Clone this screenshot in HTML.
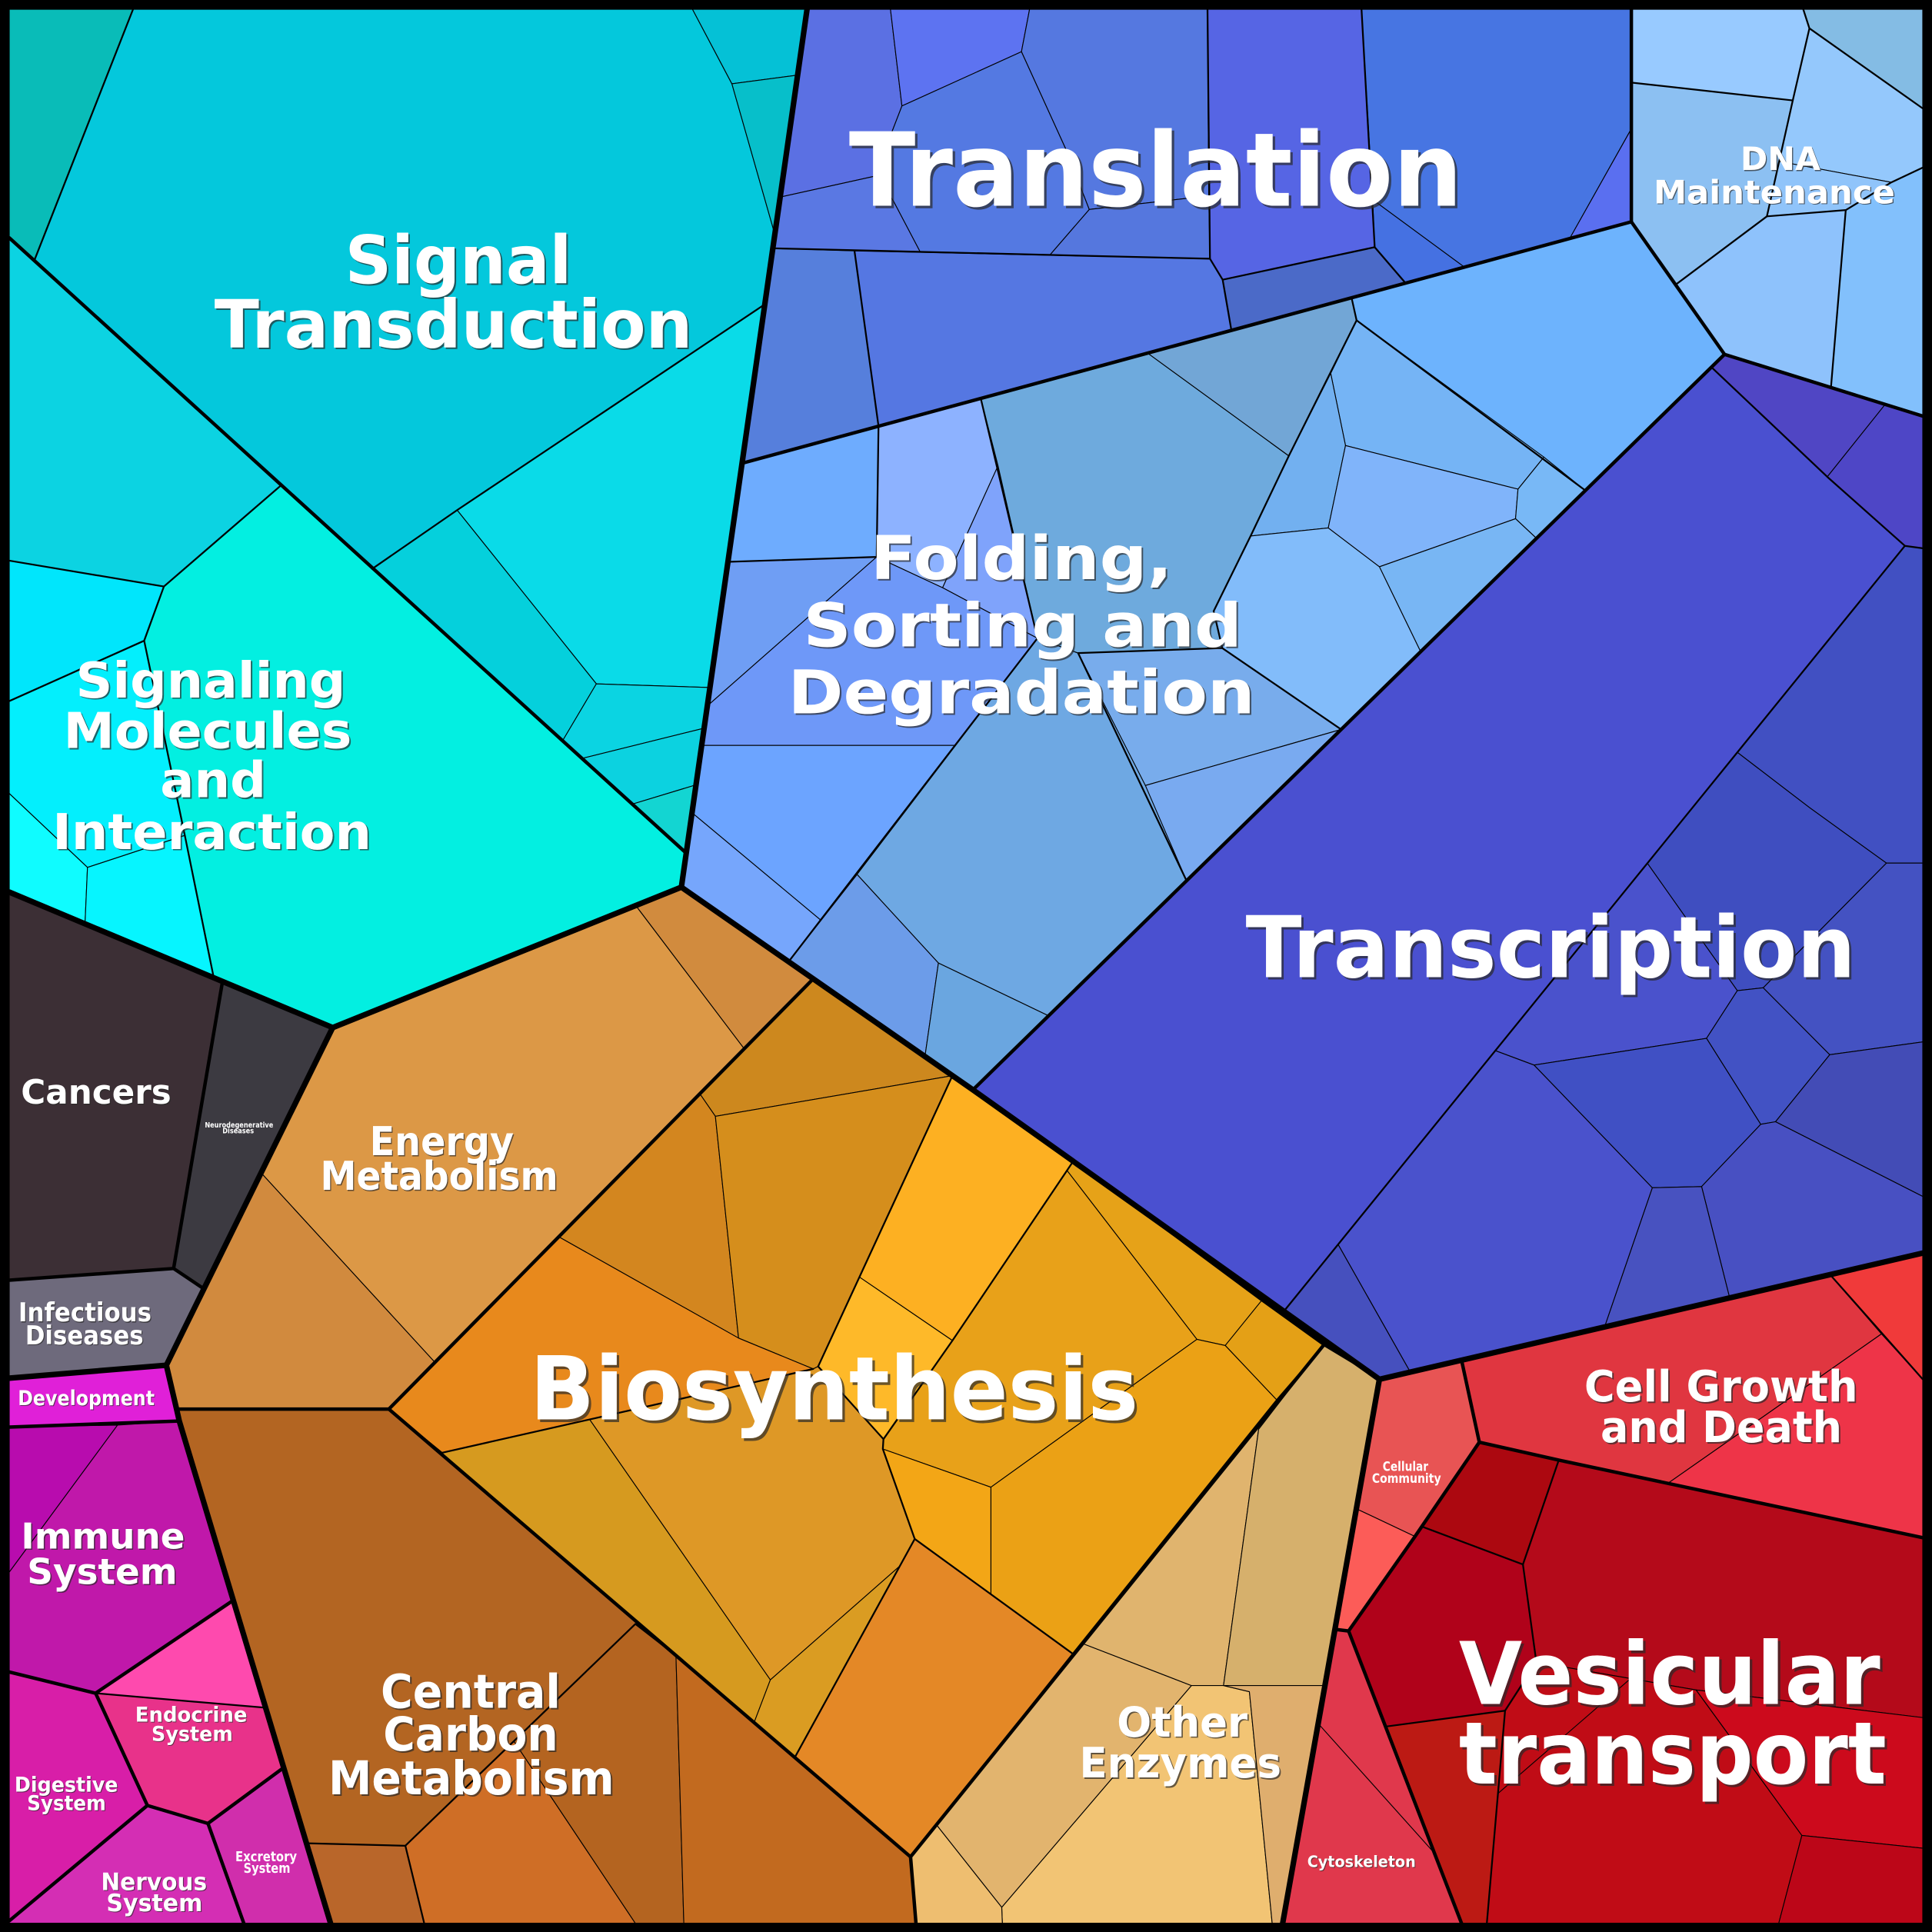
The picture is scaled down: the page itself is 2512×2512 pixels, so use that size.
<!DOCTYPE html>
<html><head><meta charset="utf-8"><style>
html,body{margin:0;padding:0;background:#000;}
svg{display:block;}
.t{font-family:"DejaVu Sans","Liberation Sans",sans-serif;font-weight:bold;text-anchor:middle;}
.s{fill:#2a2a2a;fill-opacity:.7;}
.w{fill:#fff;}
</style></head><body>
<svg xmlns="http://www.w3.org/2000/svg" width="2512" height="2512" viewBox="0 0 1568 1568">
<rect width="1568" height="1568" fill="#000"/>
<g stroke="#000" stroke-width="0.7" stroke-linejoin="round">
<!-- Signal Transduction -->
<polygon fill="#09bcb8" points="7.5,7.5 108,7.5 28,211 7.5,193"/>
<polygon fill="#04c8dc" points="108,7.5 562,7.5 594,68 628.8,190 620.7,247 371,414 302,461.7 28,211"/>
<polygon fill="#05c1d6" points="562,7.5 655,7.5 647.3,61 594,68"/>
<polygon fill="#07bfca" points="594,68 647.3,61 628.8,190"/>
<polygon fill="#0adbe8" points="620.7,247 576.2,558 484,555 371,414"/>
<polygon fill="#05d0dc" points="302,461.7 371,414 484,555 456,602.2"/>
<polygon fill="#0bd4e2" points="484,555 576.2,558 571.4,591 471,615.9 456,602.2"/>
<polygon fill="#0cd2e0" points="471,615.9 571.4,591 564.8,637 512,653"/>
<polygon fill="#13d5d2" points="512,653 564.8,637 556.5,692"/>
<!-- Signaling Molecules -->
<polygon fill="#0cd3e2" points="7.5,193 228,394 133,476 7.5,455"/>
<polygon fill="#00e6fc" points="7.5,455 133,476 117,520 7.5,569"/>
<polygon fill="#03effd" points="7.5,569 117,520 150,678 71,704 7.5,644"/>
<polygon fill="#0ffcff" points="7.5,644 71,704 69,749.5 7.5,724"/>
<polygon fill="#06f5ff" points="71,704 150,678 173.5,793.6 69,749.5"/>
<polygon fill="#03efe1" points="228,394 556.5,692 553,720 270,834 173.5,793.6 150,678 117,520 133,476"/>
<!-- Translation -->
<polygon fill="#5b70e3" points="655,7.5 722.7,7.5 732,86 710,143 633,160"/>
<polygon fill="#5d73f1" points="722.7,7.5 835.6,7.5 829,42 732,86"/>
<polygon fill="#5578e0" points="835.6,7.5 980,7.5 981,159 884,170 865,121 829,42"/>
<polygon fill="#5577de" points="884,170 981,159 982,210 852,207"/>
<polygon fill="#5479e2" points="732,86 829,42 865,121 884,170 852,207 747,204.8 725,163 710,143"/>
<polygon fill="#5a78e3" points="633,160 710,143 725,163 747,204.8 627.2,201.5"/>
<polygon fill="#5665e4" points="980,7.5 1105,7.5 1115.7,200.6 992.3,227 982,210"/>
<polygon fill="#4775e2" points="1105,7.5 1324,7.5 1324,104.5 1274,193.5 1188.5,216.8 1114,162"/>
<polygon fill="#4571e2" points="1114,162 1188.5,216.8 1140.7,229.7 1115.7,200.6"/>
<polygon fill="#5a6ff0" points="1324,104.5 1324,180 1274,193.5"/>
<polygon fill="#4b6ac8" points="992.3,227 1115.7,200.6 1140.7,229.7 999.4,268.1"/>
<polygon fill="#567fdc" points="627.2,201.5 693.5,203.6 713,345.9 602.2,376"/>
<polygon fill="#5577e2" points="693.5,203.6 982,210 992.3,227 999.4,268.1 713,345.9"/>
<!-- Folding -->
<polygon fill="#6eacfe" points="602.2,376 713,345.9 711.5,452 590.7,456"/>
<polygon fill="#8db2ff" points="713,345.9 796,323.4 810,378 765,477 711.5,452"/>
<polygon fill="#7fa3fb" points="765,477 810,378 842,518"/>
<polygon fill="#6f9ef4" points="590.7,456 711.5,452 574,573"/>
<polygon fill="#6e98f8" points="574,573 711.5,452 765,477 842,518 775,605 569.4,605"/>
<polygon fill="#6ca4ff" points="569.4,605 775,605 665.8,746.5 561.6,659.6"/>
<polygon fill="#76a6fc" points="561.6,659.6 665.8,746.5 640,780.5 553,720"/>
<polygon fill="#6ea8e3" points="842,518 875,530 930,637 963,714.8 851,824.4 761.6,781.6 695.6,709.7"/>
<polygon fill="#6c9ce9" points="640,780.5 695.6,709.7 761.6,781.6 750.7,857.4"/>
<polygon fill="#6aa6e0" points="761.6,781.6 851,824.4 789.6,884.5 750.7,857.4"/>
<polygon fill="#6eaadd" points="796,323.4 931.7,286.8 1046,370 1015,435 985,496 992,526 875,530 842,518 810,378"/>
<polygon fill="#72a6d6" points="931.7,286.8 1097,242 1101,260 1046,370"/>
<polygon fill="#6db3fd" points="1097,242 1324,180 1399.6,287.6 1286.7,398.1 1101,260"/>
<polygon fill="#75b4f5" points="1101,260 1253,371 1232,397 1092,361.6 1080,303"/>
<polygon fill="#72b0f0" points="1080,303 1092,361.6 1078,428.5 1015,435 1046,370"/>
<polygon fill="#80b4fa" points="1092,361.6 1232,397 1230,421 1119.5,460 1078,428.5"/>
<polygon fill="#78b8f6" points="1253,371 1286.7,398.1 1247,436.9 1230,421 1232,397"/>
<polygon fill="#78b6f4" points="1119.5,460 1230,421 1247,436.9 1153,528.9"/>
<polygon fill="#82bcfa" points="1015,435 1078,428.5 1119.5,460 1153,528.9 1088.5,592 992,526 985,496"/>
<polygon fill="#78acec" points="875,530 992,526 1088.5,592 929.6,637.5"/>
<polygon fill="#79aaf0" points="929.6,637.5 1088.5,592 963,714.8"/>
<!-- DNA Maintenance -->
<polygon fill="#98caff" points="1324,7.5 1463.5,7.5 1468.5,23 1455,81.5 1324,67"/>
<polygon fill="#84bce4" points="1463.5,7.5 1560.5,7.5 1560.5,88 1468.5,23"/>
<polygon fill="#8cc0f2" points="1324,67 1455,81.5 1434,175.6 1360,231 1324,180"/>
<polygon fill="#94c8fc" points="1468.5,23 1560.5,88 1560.5,136 1535,148 1444,131 1455,81.5"/>
<polygon fill="#90c4fa" points="1444,131 1535,148 1498,170.5 1434,175.6"/>
<polygon fill="#82c0fc" points="1535,148 1560.5,136 1560.5,337.7 1486,314.5 1498,170.5"/>
<polygon fill="#8ec2fc" points="1360,231 1434,175.6 1498,170.5 1486,314.5 1399.6,287.6"/>
<!-- Transcription -->
<polygon fill="#5046c4" points="1399.6,287.6 1530,328.2 1483,387 1389,298"/>
<polygon fill="#4e46c6" points="1530,328.2 1560.5,337.7 1560.5,445 1546,443 1483,387"/>
<polygon fill="#4a50d0" points="1389,298 1483,387 1546,443 1042,1064.2 789.6,884.5"/>
<polygon fill="#4150c2" points="1546,443 1560.5,445 1560.5,700.5 1531,700.5 1468.5,655.4 1410,610.6"/>
<polygon fill="#3f4ec0" points="1410,610.6 1468.5,655.4 1531,700.5 1431,801.7 1410,804 1337,700.6"/>
<polygon fill="#4452c2" points="1531,700.5 1560.5,700.5 1560.5,845.6 1485,856 1431,801.7"/>
<polygon fill="#4a52cc" points="1337,700.6 1410,804 1385,842.7 1245,864.4 1213.6,852.7"/>
<polygon fill="#4252c4" points="1410,804 1431,801.7 1485,856 1441,910.4 1429,912.5 1385,842.7"/>
<polygon fill="#4050c4" points="1245,864.4 1385,842.7 1429,912.5 1381,963 1341,964"/>
<polygon fill="#434cb6" points="1485,856 1560.5,845.6 1560.5,971 1441,910.4"/>
<polygon fill="#4850c2" points="1441,910.4 1560.5,971 1560.5,1017 1403.8,1053.4 1381,963 1429,912.5"/>
<polygon fill="#4852c0" points="1341,964 1381,963 1403.8,1053.4 1302.2,1077"/>
<polygon fill="#4a52cc" points="1213.6,852.7 1245,864.4 1341,964 1302.2,1077 1144.6,1113.6 1086,1010"/>
<polygon fill="#4650be" points="1086,1010 1144.6,1113.6 1119.5,1119.4 1042,1064.2"/>
<!-- Energy Metabolism -->
<polygon fill="#d18b3e" points="516,735 553,720 660,794.4 604,851.2"/>
<polygon fill="#dc9846" points="270,834 516,735 604,851.2 353,1105.7 212,952"/>
<polygon fill="#d18a3e" points="212,952 353,1105.7 315.6,1143.6 143.3,1143.6 135,1108"/>
<!-- Biosynthesis -->
<polygon fill="#cd881e" points="660,794.4 773,873 580.6,906 568,887.7"/>
<polygon fill="#d3861f" points="568,887.7 580.6,906 599.4,1086 453.5,1003.8"/>
<polygon fill="#d58e1c" points="580.6,906 773,873 664,1109 660,1111 599.4,1086"/>
<polygon fill="#e8891c" points="453.5,1003.8 599.4,1086 660,1111 359,1179 315.6,1143.6"/>
<polygon fill="#fdb022" points="773,873 789.6,884.5 871,942.5 773,1088 697.7,1036.6"/>
<polygon fill="#feb929" points="697.7,1036.6 773,1088 717,1168 664,1109"/>
<polygon fill="#e6a218" points="871,942.5 1023.7,1055.8 994.4,1092 971.4,1087 866,950"/>
<polygon fill="#e8a119" points="866,950 971.4,1087 804.2,1207 716.5,1176 717,1168 773,1088"/>
<polygon fill="#e4a016" points="1023.7,1055.8 1074,1092 1036,1136 994.4,1092"/>
<polygon fill="#eba115" points="971.4,1087 994.4,1092 1036,1136 870.4,1342 804.2,1294 804.2,1207"/>
<polygon fill="#f3a616" points="716.5,1176 804.2,1207 804.2,1294 742.4,1249"/>
<polygon fill="#de9826" points="478.5,1152 660,1111 664,1109 717,1168 716.5,1176 742.4,1249 730.3,1271 625.2,1363.4"/>
<polygon fill="#d69a1f" points="315.6,1143.6 359,1179 478.5,1152 625.2,1363.4 612,1398.1"/>
<polygon fill="#da9c22" points="625.2,1363.4 730.3,1271 645,1426.4 612,1398.1"/>
<polygon fill="#e48826" points="742.4,1249 870.4,1342 739,1507 645,1426.4 730.3,1271"/>
<!-- Central Carbon -->
<polygon fill="#b36522" points="143.3,1143.6 315.6,1143.6 548.6,1343.6 515.7,1318 329,1498 248.7,1496 145.5,1153.3"/>
<polygon fill="#b9662a" points="248.7,1496 329,1498 344.3,1561 268.3,1561"/>
<polygon fill="#cf6e26" points="329,1498 417,1413 515.7,1561 344.3,1561"/>
<polygon fill="#b46420" points="417,1413 515.7,1318 548.6,1343.6 555,1561 515.7,1561"/>
<polygon fill="#c26a1f" points="548.6,1343.6 739,1507 743.4,1561 555,1561"/>
<!-- Other Enzymes -->
<polygon fill="#e2b46e" points="879,1334 967,1368 813,1548 760,1481"/>
<polygon fill="#e0b46e" points="879,1334 1074,1092 1021.5,1160 993,1368 967,1368"/>
<polygon fill="#d6b06c" points="1074,1092 1119.5,1119.4 1075.3,1368 993,1368 1021.5,1160"/>
<polygon fill="#f2c474" points="967,1368 993,1368 1014,1373 1032.5,1561 813.5,1561 813,1548"/>
<polygon fill="#dfae6e" points="993,1368 1075.3,1368 1041,1561 1032.5,1561 1014,1373"/>
<polygon fill="#eebe70" points="760,1481 813,1548 813.5,1561 743.4,1561 739,1507"/>
<!-- Human diseases -->
<polygon fill="#3c2f35" points="7.5,724 180.6,796.5 140.9,1029.5 7.5,1039"/>
<polygon fill="#3c3a41" points="180.6,796.5 270,834 165.5,1046 140.9,1029.5"/>
<polygon fill="#6e6a7c" points="7.5,1039 140.9,1029.5 165.5,1046 135,1108 7.5,1118.5"/>
<!-- Organismal -->
<polygon fill="#e020d8" points="7.5,1118.5 135,1108 143.3,1143.6 145.5,1153.3 7.5,1158.2"/>
<polygon fill="#b80cae" points="7.5,1158.2 95.4,1156.6 7.5,1276"/>
<polygon fill="#c018aa" points="95.4,1156.6 145.5,1153.3 189.3,1298.8 77.6,1374.2 7.5,1357 7.5,1276"/>
<polygon fill="#fe4aae" points="189.3,1298.8 215.6,1386 77.6,1374.2"/>
<polygon fill="#e8328a" points="77.6,1374.2 215.6,1386 230.2,1434.6 168.8,1479.9 119.6,1465.3"/>
<polygon fill="#d81ea8" points="7.5,1357 77.6,1374.2 119.6,1465.3 7.5,1559"/>
<polygon fill="#d42eb4" points="119.6,1465.3 168.8,1479.9 197.9,1561 7.5,1561 7.5,1559"/>
<polygon fill="#d02eac" points="168.8,1479.9 230.2,1434.6 268.3,1561 197.9,1561"/>
<!-- Cellular processes -->
<polygon fill="#e85454" points="1119.5,1119.4 1186.2,1104 1200.6,1170.5 1148.4,1247 1100.8,1224.5"/>
<polygon fill="#fc5c58" points="1100.8,1224.5 1148.4,1247 1094.5,1323.7 1083.5,1322.4"/>
<polygon fill="#e03640" points="1186.2,1104 1485.3,1034.5 1527,1082.6 1353.6,1203.9 1265.1,1185 1200.6,1170.5"/>
<polygon fill="#f03a3a" points="1485.3,1034.5 1560.5,1017 1560.5,1119.4"/>
<polygon fill="#ee3448" points="1527,1082.6 1560.5,1119.4 1560.5,1248 1353.6,1203.9"/>
<polygon fill="#ac0810" points="1200.6,1170.5 1265.1,1185 1236,1269.7 1154.2,1239"/>
<polygon fill="#b40a1a" points="1265.1,1185 1560.5,1248 1560.5,1394 1376.6,1371.6 1246.9,1349 1236,1269.7"/>
<polygon fill="#b0021a" points="1154.2,1239 1236,1269.7 1246.9,1349 1221.5,1388.4 1124.5,1401.3 1094.5,1323.7"/>
<polygon fill="#bc1a14" points="1124.5,1401.3 1221.5,1388.4 1206.7,1561 1186.2,1561"/>
<polygon fill="#e0384c" points="1083.5,1322.4 1094.5,1323.7 1186.2,1561 1041,1561"/>
<polygon fill="#c00c16" points="1221.5,1388.4 1246.9,1349 1376.6,1371.6 1462.4,1489.6 1443.6,1561 1206.7,1561"/>
<polygon fill="#cc0a1c" points="1376.6,1371.6 1560.5,1394 1560.5,1500 1462.4,1489.6"/>
<polygon fill="#bc0618" points="1462.4,1489.6 1560.5,1500 1560.5,1561 1443.6,1561"/>
</g>
<!-- thin extra lines -->
<g fill="none" stroke="#000" stroke-width="0.7">
<polyline points="1070,1399 1164.2,1504"/>
<polyline points="1215.7,1455.6 1323.4,1362.3"/>
</g>
<!-- medium lines -->
<g fill="none" stroke="#000" stroke-width="1.4" stroke-linejoin="round" stroke-linecap="round">
<polyline points="7.5,455 133,476 228,394"/>
<polyline points="133,476 117,520 7.5,569"/>
<polyline points="117,520 150,678 173.5,793.6"/>
<polyline points="302,461.7 371,414 620.7,247"/>
<polyline points="108,7.5 28,211"/>
<polyline points="980,7.5 982,210 992.3,227 999.4,268.1"/>
<polyline points="627.2,201.5 982,210"/>
<polyline points="1105,7.5 1115.7,200.6 1140.7,229.7"/>
<polyline points="992.3,227 1115.7,200.6"/>
<polyline points="693.5,203.6 713,345.9"/>
<polyline points="842,518 640,780.5"/>
<polyline points="713,345.9 711.5,452 590.7,456"/>
<polyline points="796,323.4 842,518"/>
<polyline points="1097,242 1101,260 1046,370 1015,435 985,496 992,526 875,530 963,714.8"/>
<polyline points="1101,260 1286.7,398.1"/>
<polyline points="992,526 1088.5,592"/>
<polyline points="1324,67 1455,81.5"/>
<polyline points="1468.5,23 1455,81.5 1434,175.6 1360,231"/>
<polyline points="1434,175.6 1498,170.5 1486,314.5"/>
<polyline points="1463.5,7.5 1468.5,23 1560.5,88"/>
<polyline points="1498,170.5 1535,148 1560.5,136"/>
<polyline points="1546,443 1042,1064.2"/>
<polyline points="1389,298 1483,387 1546,443 1560.5,445"/>
<polyline points="773,873 664,1109 717,1168 773,1088 871,942.5"/>
<polyline points="717,1168 716.5,1176 742.4,1249 870.4,1342"/>
<polyline points="742.4,1249 730.3,1271 645,1426.4"/>
<polyline points="359,1179 660,1111"/>
<polyline points="329,1498 515.7,1318 548.6,1343.6"/>
<polyline points="248.7,1496 329,1498 344.3,1561"/>
<polyline points="1265.1,1185 1236,1269.7 1154.2,1239"/>
<polyline points="1236,1269.7 1246.9,1349 1221.5,1388.4 1124.5,1401.3"/>
<polyline points="1221.5,1388.4 1206.7,1561"/>
<polyline points="77.6,1374.2 215.6,1386"/>
<polyline points="1485.3,1034.5 1560.5,1119.4"/>
</g>
<!-- category lines -->
<g fill="none" stroke="#000" stroke-width="2.8" stroke-linejoin="round" stroke-linecap="round">
<polyline points="7.5,193 556.5,692"/>
<polyline points="602.2,376 1324,180 1399.6,287.6 1560.5,337.7"/>
<polyline points="1324,7.5 1324,180"/>
<polyline points="1399.6,287.6 789.6,884.5"/>
<polyline points="180.6,796.5 140.9,1029.5 165.5,1046"/>
<polyline points="7.5,1039 140.9,1029.5"/>
<polyline points="660,794.4 315.6,1143.6 739,1507 1074,1092"/>
<polyline points="143.3,1143.6 315.6,1143.6"/>
<polyline points="739,1507 743.4,1561"/>
<polyline points="7.5,1158.2 145.5,1153.3"/>
<polyline points="189.3,1298.8 77.6,1374.2 7.5,1357"/>
<polyline points="77.6,1374.2 119.6,1465.3 7.5,1559"/>
<polyline points="119.6,1465.3 168.8,1479.9 230.2,1434.6"/>
<polyline points="168.8,1479.9 197.9,1561"/>
<polyline points="1186.2,1104 1200.6,1170.5 1265.1,1185 1560.5,1248"/>
<polyline points="1200.6,1170.5 1148.4,1247 1094.5,1323.7 1083.5,1322.4"/>
<polyline points="1094.5,1323.7 1186.2,1561"/>
</g>
<!-- super-category lines -->
<g fill="none" stroke="#000" stroke-width="4.5" stroke-linejoin="round" stroke-linecap="round">
<polyline points="655,7.5 553,720"/>
<polyline points="7.5,724 270,834 553,720 789.6,884.5 1119.5,1119.4 1560.5,1017"/>
<polyline points="270,834 165.5,1046 135,1108"/>
<polyline points="7.5,1118.5 135,1108 143.3,1143.6 145.5,1153.3 268.3,1561"/>
<polyline points="1119.5,1119.4 1041,1561"/>
</g>
<rect x="3.75" y="3.75" width="1560.5" height="1560.5" fill="none" stroke="#000" stroke-width="7.5"/>

<!-- Labels: shadow then white -->
<g class="t">
<text class="s" x="373.3" y="231.3" font-size="54" textLength="184" lengthAdjust="spacingAndGlyphs">Signal</text>
<text class="w" x="372" y="230" font-size="54" textLength="184" lengthAdjust="spacingAndGlyphs">Signal</text>
<text class="s" x="369.3" y="283.3" font-size="54" textLength="388" lengthAdjust="spacingAndGlyphs">Transduction</text>
<text class="w" x="368" y="282" font-size="54" textLength="388" lengthAdjust="spacingAndGlyphs">Transduction</text>

<text class="s" x="172.2" y="567.2" font-size="40" textLength="219" lengthAdjust="spacingAndGlyphs">Signaling</text>
<text class="w" x="171" y="566" font-size="40" textLength="219" lengthAdjust="spacingAndGlyphs">Signaling</text>
<text class="s" x="169.7" y="608.2" font-size="40" textLength="234" lengthAdjust="spacingAndGlyphs">Molecules</text>
<text class="w" x="168.5" y="607" font-size="40" textLength="234" lengthAdjust="spacingAndGlyphs">Molecules</text>
<text class="s" x="174.2" y="648.2" font-size="40" textLength="86" lengthAdjust="spacingAndGlyphs">and</text>
<text class="w" x="173" y="647" font-size="40" textLength="86" lengthAdjust="spacingAndGlyphs">and</text>
<text class="s" x="173.2" y="690.2" font-size="40" textLength="259" lengthAdjust="spacingAndGlyphs">Interaction</text>
<text class="w" x="172" y="689" font-size="40" textLength="259" lengthAdjust="spacingAndGlyphs">Interaction</text>

<text class="s" x="940" y="169" font-size="83" textLength="498" lengthAdjust="spacingAndGlyphs">Translation</text>
<text class="w" x="938" y="167" font-size="83" textLength="498" lengthAdjust="spacingAndGlyphs">Translation</text>

<text class="s" x="1445.8" y="138.8" font-size="26" textLength="65" lengthAdjust="spacingAndGlyphs">DNA</text>
<text class="w" x="1445" y="138" font-size="26" textLength="65" lengthAdjust="spacingAndGlyphs">DNA</text>
<text class="s" x="1440.8" y="165.8" font-size="26" textLength="196" lengthAdjust="spacingAndGlyphs">Maintenance</text>
<text class="w" x="1440" y="165" font-size="26" textLength="196" lengthAdjust="spacingAndGlyphs">Maintenance</text>

<text class="s" x="830.3" y="471.3" font-size="49" textLength="245" lengthAdjust="spacingAndGlyphs">Folding,</text>
<text class="w" x="829" y="470" font-size="49" textLength="245" lengthAdjust="spacingAndGlyphs">Folding,</text>
<text class="s" x="831.3" y="525.9" font-size="49" textLength="356" lengthAdjust="spacingAndGlyphs">Sorting and</text>
<text class="w" x="830" y="524.6" font-size="49" textLength="356" lengthAdjust="spacingAndGlyphs">Sorting and</text>
<text class="s" x="830.3" y="580.3" font-size="49" textLength="379" lengthAdjust="spacingAndGlyphs">Degradation</text>
<text class="w" x="829" y="579" font-size="49" textLength="379" lengthAdjust="spacingAndGlyphs">Degradation</text>

<text class="s" x="1260.3" y="794.8" font-size="69" textLength="495" lengthAdjust="spacingAndGlyphs">Transcription</text>
<text class="w" x="1258.5" y="793" font-size="69" textLength="495" lengthAdjust="spacingAndGlyphs">Transcription</text>

<text class="s" x="359.3" y="938.6" font-size="32" textLength="117" lengthAdjust="spacingAndGlyphs">Energy</text>
<text class="w" x="358.5" y="937.6" font-size="32" textLength="117" lengthAdjust="spacingAndGlyphs">Energy</text>
<text class="s" x="357.3" y="966.6" font-size="32" textLength="193" lengthAdjust="spacingAndGlyphs">Metabolism</text>
<text class="w" x="356.5" y="965.6" font-size="32" textLength="193" lengthAdjust="spacingAndGlyphs">Metabolism</text>

<text class="s" x="78.8" y="896.6" font-size="27" textLength="122" lengthAdjust="spacingAndGlyphs">Cancers</text>
<text class="w" x="78" y="895.7" font-size="27" textLength="122" lengthAdjust="spacingAndGlyphs">Cancers</text>

<text class="w" x="194" y="915" font-size="6" textLength="55.5" lengthAdjust="spacingAndGlyphs">Neurodegenerative</text>
<text class="w" x="193.3" y="919.8" font-size="6" textLength="25.5" lengthAdjust="spacingAndGlyphs">Diseases</text>

<text class="s" x="69.7" y="1073.2" font-size="21" textLength="108" lengthAdjust="spacingAndGlyphs">Infectious</text>
<text class="w" x="69" y="1072.5" font-size="21" textLength="108" lengthAdjust="spacingAndGlyphs">Infectious</text>
<text class="s" x="69.2" y="1091.7" font-size="21" textLength="96" lengthAdjust="spacingAndGlyphs">Diseases</text>
<text class="w" x="68.5" y="1091" font-size="21" textLength="96" lengthAdjust="spacingAndGlyphs">Diseases</text>

<text class="s" x="70.6" y="1141" font-size="16.5" textLength="111" lengthAdjust="spacingAndGlyphs">Development</text>
<text class="w" x="70" y="1140.4" font-size="16.5" textLength="111" lengthAdjust="spacingAndGlyphs">Development</text>

<text class="s" x="84.6" y="1257.8" font-size="29" textLength="133" lengthAdjust="spacingAndGlyphs">Immune</text>
<text class="w" x="83.6" y="1256.8" font-size="29" textLength="133" lengthAdjust="spacingAndGlyphs">Immune</text>
<text class="s" x="84" y="1286.5" font-size="29" textLength="122" lengthAdjust="spacingAndGlyphs">System</text>
<text class="w" x="83" y="1285.5" font-size="29" textLength="122" lengthAdjust="spacingAndGlyphs">System</text>

<text class="s" x="155.8" y="1398" font-size="16.5" textLength="91" lengthAdjust="spacingAndGlyphs">Endocrine</text>
<text class="w" x="155.2" y="1397.4" font-size="16.5" textLength="91" lengthAdjust="spacingAndGlyphs">Endocrine</text>
<text class="s" x="156.6" y="1413.6" font-size="16.5" textLength="66" lengthAdjust="spacingAndGlyphs">System</text>
<text class="w" x="156" y="1413" font-size="16.5" textLength="66" lengthAdjust="spacingAndGlyphs">System</text>

<text class="s" x="54.4" y="1454.6" font-size="16.5" textLength="84" lengthAdjust="spacingAndGlyphs">Digestive</text>
<text class="w" x="53.8" y="1454" font-size="16.5" textLength="84" lengthAdjust="spacingAndGlyphs">Digestive</text>
<text class="s" x="54.6" y="1469.6" font-size="16.5" textLength="64" lengthAdjust="spacingAndGlyphs">System</text>
<text class="w" x="54" y="1469" font-size="16.5" textLength="64" lengthAdjust="spacingAndGlyphs">System</text>

<text class="s" x="125.7" y="1534.6" font-size="19.5" textLength="86" lengthAdjust="spacingAndGlyphs">Nervous</text>
<text class="w" x="125" y="1533.9" font-size="19.5" textLength="86" lengthAdjust="spacingAndGlyphs">Nervous</text>
<text class="s" x="126.1" y="1551.7" font-size="19.5" textLength="78" lengthAdjust="spacingAndGlyphs">System</text>
<text class="w" x="125.4" y="1551" font-size="19.5" textLength="78" lengthAdjust="spacingAndGlyphs">System</text>

<text class="w" x="216" y="1510.6" font-size="11" textLength="50" lengthAdjust="spacingAndGlyphs">Excretory</text>
<text class="w" x="216.6" y="1519.8" font-size="11" textLength="38" lengthAdjust="spacingAndGlyphs">System</text>

<text class="s" x="679" y="1154" font-size="71" textLength="494" lengthAdjust="spacingAndGlyphs">Biosynthesis</text>
<text class="w" x="677" y="1152" font-size="71" textLength="494" lengthAdjust="spacingAndGlyphs">Biosynthesis</text>

<text class="s" x="383.3" y="1387.3" font-size="38" textLength="146" lengthAdjust="spacingAndGlyphs">Central</text>
<text class="w" x="382" y="1386" font-size="38" textLength="146" lengthAdjust="spacingAndGlyphs">Central</text>
<text class="s" x="383.3" y="1422" font-size="38" textLength="142" lengthAdjust="spacingAndGlyphs">Carbon</text>
<text class="w" x="382" y="1420.7" font-size="38" textLength="142" lengthAdjust="spacingAndGlyphs">Carbon</text>
<text class="s" x="383.8" y="1457.6" font-size="38" textLength="232" lengthAdjust="spacingAndGlyphs">Metabolism</text>
<text class="w" x="382.5" y="1456.3" font-size="38" textLength="232" lengthAdjust="spacingAndGlyphs">Metabolism</text>

<text class="s" x="960.6" y="1410.4" font-size="34" textLength="106" lengthAdjust="spacingAndGlyphs">Other</text>
<text class="w" x="959.5" y="1409.3" font-size="34" textLength="106" lengthAdjust="spacingAndGlyphs">Other</text>
<text class="s" x="959.1" y="1443.7" font-size="34" textLength="164" lengthAdjust="spacingAndGlyphs">Enzymes</text>
<text class="w" x="958" y="1442.6" font-size="34" textLength="164" lengthAdjust="spacingAndGlyphs">Enzymes</text>

<text class="s" x="1398" y="1138.4" font-size="35" textLength="222" lengthAdjust="spacingAndGlyphs">Cell Growth</text>
<text class="w" x="1396.8" y="1137.2" font-size="35" textLength="222" lengthAdjust="spacingAndGlyphs">Cell Growth</text>
<text class="s" x="1398.2" y="1171.7" font-size="35" textLength="196" lengthAdjust="spacingAndGlyphs">and Death</text>
<text class="w" x="1397" y="1170.5" font-size="35" textLength="196" lengthAdjust="spacingAndGlyphs">and Death</text>

<text class="w" x="1140.7" y="1193.8" font-size="10.5" textLength="37" lengthAdjust="spacingAndGlyphs">Cellular</text>
<text class="w" x="1141.5" y="1203.5" font-size="10.5" textLength="56" lengthAdjust="spacingAndGlyphs">Community</text>

<text class="s" x="1357" y="1385" font-size="70" textLength="342" lengthAdjust="spacingAndGlyphs">Vesicular</text>
<text class="w" x="1355" y="1383" font-size="70" textLength="342" lengthAdjust="spacingAndGlyphs">Vesicular</text>
<text class="s" x="1359.5" y="1449.5" font-size="70" textLength="347" lengthAdjust="spacingAndGlyphs">transport</text>
<text class="w" x="1357.5" y="1447.5" font-size="70" textLength="347" lengthAdjust="spacingAndGlyphs">transport</text>

<text class="s" x="1105.6" y="1516" font-size="13" textLength="88" lengthAdjust="spacingAndGlyphs">Cytoskeleton</text>
<text class="w" x="1105" y="1515.4" font-size="13" textLength="88" lengthAdjust="spacingAndGlyphs">Cytoskeleton</text>
</g>
</svg>
</body></html>
